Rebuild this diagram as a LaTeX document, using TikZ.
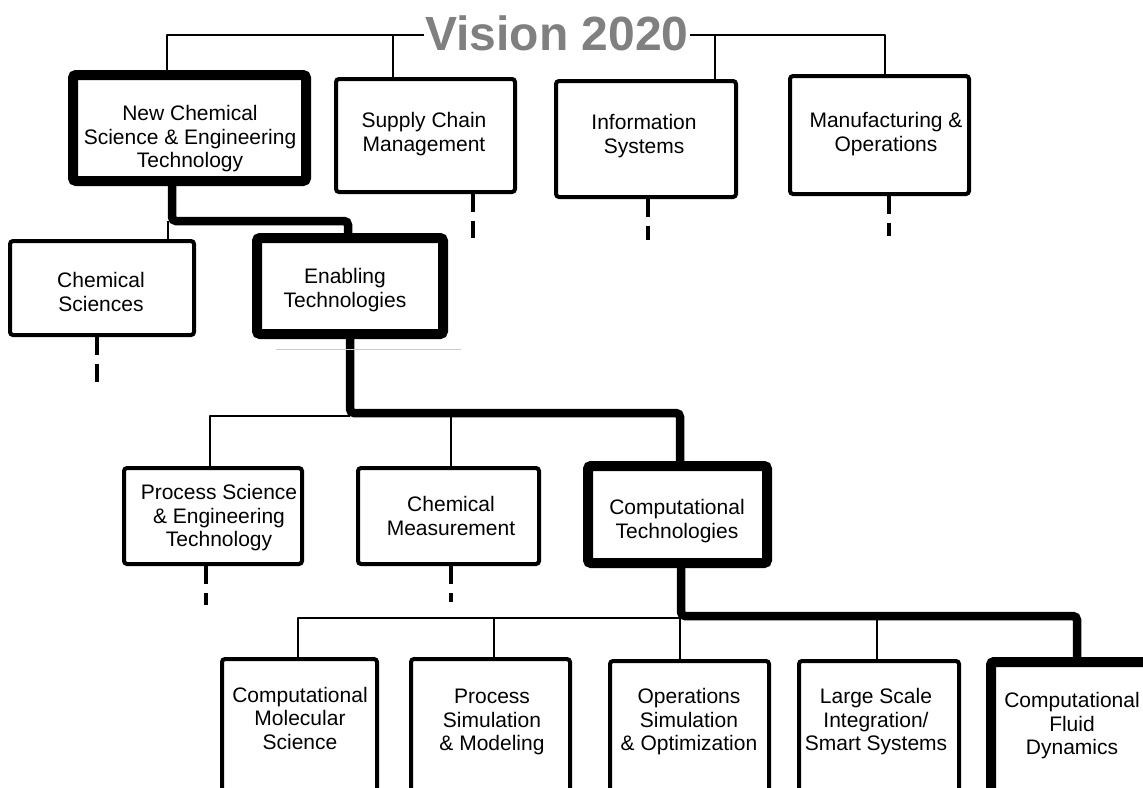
\documentclass[tikz,border=0pt]{standalone}
\usepackage{fontspec}
\setmainfont{Liberation Sans}
\definecolor{titlegray}{RGB}{128,128,128}
\begin{document}
\begin{tikzpicture}[x=1pt,y=-1pt,
  box/.style={draw, line width=4pt, rounded corners=3pt, inner sep=0pt, fill=white},
  tbox/.style={draw, line width=10pt, rounded corners=3pt, inner sep=0pt, fill=white},
  lbl/.style={align=center, font=\fontsize{21}{23.5}\selectfont, inner sep=0pt},
  thinc/.style={line width=2.5pt, line join=round},
  hairc/.style={line width=1.5pt},
  thickc/.style={line width=8.5pt, rounded corners=4pt},
  stub/.style={line width=4pt, dash pattern=on 18pt off 9pt},
  titlestyle/.style={font=\fontsize{48}{50}\selectfont\bfseries, text=titlegray, fill=white, inner sep=1pt, anchor=base}]
\useasboundingbox (0,0) rectangle (1143,787);
\clip (0,0) rectangle (1143,787);

% boxes
\node[tbox, minimum width=233pt, minimum height=106pt] (b1) at (189.5,128) {};
\node[box, minimum width=179pt, minimum height=113pt] (sc) at (425.5,135.5) {};
\node[box, minimum width=180pt, minimum height=116pt] (is) at (646,139) {};
\node[box, minimum width=179pt, minimum height=118pt] (mo) at (879.5,135) {};
\node[box, minimum width=184pt, minimum height=94pt] (cs) at (102,288) {};
\node[tbox, minimum width=186pt, minimum height=96pt] (en) at (350,286) {};
\node[box, minimum width=178pt, minimum height=96pt] (ps) at (213,516) {};
\node[box, minimum width=181pt, minimum height=96pt] (cm) at (448.5,516) {};
\node[tbox, minimum width=179pt, minimum height=97pt] (ct) at (677.5,514.5) {};
\node[box, minimum width=155pt, minimum height=171pt] (cms) at (299.5,744.5) {};
\node[box, minimum width=159pt, minimum height=171pt] (psm) at (490.5,744.5) {};
\node[box, minimum width=159pt, minimum height=169pt] (oso) at (689.5,745.5) {};
\node[box, minimum width=160pt, minimum height=169pt] (lsi) at (879,745.5) {};
\node[tbox, minimum width=169pt, minimum height=168pt] (cfd) at (1075.5,746) {};

% labels
\node[lbl] (b1t) at (190,139) {New Chemical\\Science \& Engineering\\Technology};
\node[lbl] (sct) at (424,134) {Supply Chain\\Management};
\node[lbl] (ist) at (644,136) {Information\\Systems};
\node[lbl] (mot) at (886,134) {Manufacturing \&\\Operations};
\node[lbl] (cst) at (101,292) {Chemical\\Sciences};
\node[lbl] (ent) at (345,290) {Enabling\\Technologies};
\node[lbl] (pst) at (219,518) {Process Science\\\& Engineering\\Technology};
\node[lbl] (cmt) at (451,516) {Chemical\\Measurement};
\node[lbl] (ctt) at (677,521) {Computational\\Technologies};
\node[lbl] (cmst) at (300,718) {Computational\\Molecular\\Science};
\node[lbl] (psmt) at (492,722) {Process\\Simulation\\\& Modeling};
\node[lbl] (osot) at (689,722) {Operations\\Simulation\\\& Optimization};
\node[lbl] (lsit) at (876,722) {Large Scale\\Integration/\\Smart Systems};
\node[lbl] (cfdt) at (1072,726) {Computational\\Fluid\\Dynamics};

% top bus
\coordinate (v1) at (167,35);
\coordinate (v2) at (393,35);
\coordinate (v3) at (715,35);
\coordinate (v4) at (885,35);
\draw[thinc] (b1.north -| v1) -- (v1) -- (v4) -- (mo.north -| v4);
\draw[hairc] (v2) -- (sc.north -| v2);
\draw[hairc] (v3) -- (is.north -| v3);
\node[titlestyle] (title) at (557,50) {Vision 2020};

% level 2
\coordinate (j1) at (172,221);
\coordinate (j2) at (348,221);
\coordinate (j3) at (168,221);
\draw[thickc] (b1.south -| j1) -- (j1) -- (j2) -- (en.north -| j2);
\draw[thinc] (j3) -- (cs.north -| j3);

% level 3
\coordinate (k1) at (350,413);
\coordinate (k2) at (680,413);
\coordinate (k3) at (350,416);
\coordinate (k4) at (210,416);
\coordinate (k5) at (451,413);
\draw[thickc] (en.south -| k1) -- (k1) -- (k2) -- (ct.north -| k2);
\draw[thinc] (k3) -- (k4) -- (ps.north -| k4);
\draw[thinc] (k5) -- (cm.north -| k5);

% level 4
\coordinate (m1) at (681,616);
\coordinate (m2) at (1077,616);
\coordinate (m3) at (681,618);
\coordinate (m4) at (298,618);
\coordinate (m5) at (494,618);
\coordinate (m6) at (680,618);
\coordinate (m7) at (877,616);
\draw[thickc] (ct.south -| m1) -- (m1) -- (m2) -- (cfd.north -| m2);
\draw[thinc] (m3) -- (m4) -- (cms.north -| m4);
\draw[thinc] (m5) -- (psm.north -| m5);
\draw[thinc] (m6) -- (oso.north -| m6);
\draw[thinc] (m7) -- (lsi.north -| m7);

% dashed stubs
\coordinate (s1) at (473,238);
\coordinate (s2) at (648,240);
\coordinate (s3) at (889,236);
\coordinate (s4) at (97,382);
\coordinate (s5) at (206,605);
\coordinate (s6) at (451,602);
\draw[stub] (sc.south -| s1) -- (s1);
\draw[stub] (is.south -| s2) -- (s2);
\draw[stub] (mo.south -| s3) -- (s3);
\draw[stub] (cs.south -| s4) -- (s4);
\draw[stub] (ps.south -| s5) -- (s5);
\draw[stub] (cm.south -| s6) -- (s6);

% faint line
\draw[black!20, line width=0.8pt] (276,349) -- (461,349);
\end{tikzpicture}
\end{document}
